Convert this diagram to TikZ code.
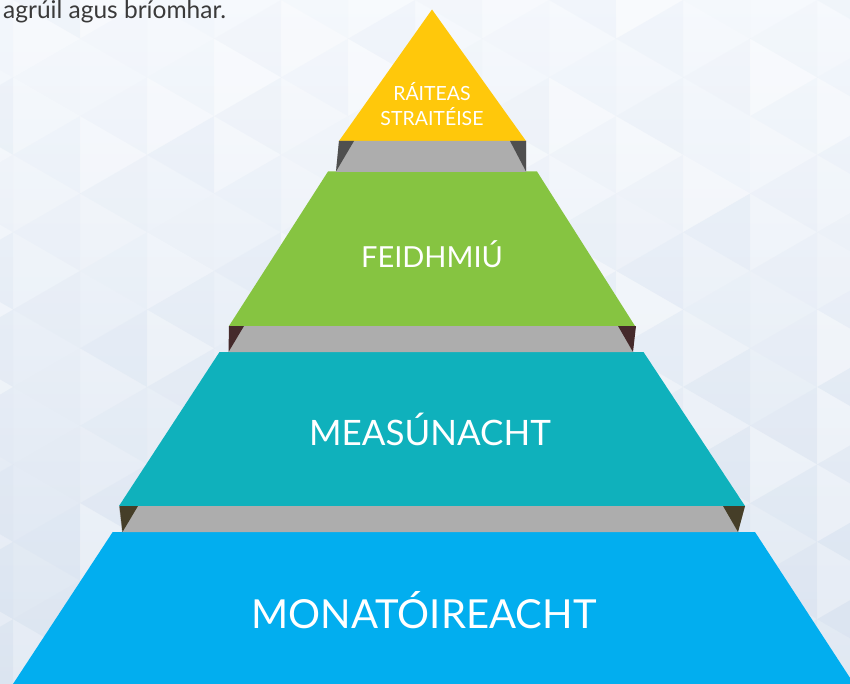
\documentclass[tikz,border=0pt]{standalone}
\usepackage{fontspec}
\setmainfont{Lato}
\usetikzlibrary{positioning}

\definecolor{pyryellow}{HTML}{FFC80B}
\definecolor{pyrgreen}{HTML}{86C441}
\definecolor{pyrteal}{HTML}{0FB1BC}
\definecolor{pyrblue}{HTML}{02AEEF}
\definecolor{stepgray}{HTML}{ADADAD}
\definecolor{shadeone}{HTML}{4F4F4F}
\definecolor{shadetwo}{HTML}{452A2B}
\definecolor{shadethree}{HTML}{453E28}
\definecolor{bgtop}{HTML}{F6F9FD}
\definecolor{bgbottom}{HTML}{DCE5F1}
\definecolor{facetblue}{HTML}{CCDAEC}
\definecolor{introgray}{HTML}{3A3A3A}

\begin{document}
\begin{tikzpicture}[
    x=1pt, y=-1pt,
    gapbox/.style={fill=stepgray},
    tierlabel/.style={text=white, inner sep=0, align=center}
]
\useasboundingbox (0,0) rectangle (850,684);
\clip (0,0) rectangle (850,684);

% Background with faint facets
\shade[top color=bgtop, bottom color=bgbottom] (0,0) rectangle (850,684);
\pgfmathsetseed{42}
\foreach \k in {-1,...,12}{
  \foreach \j in {-1,...,9}{
    \pgfmathsetmacro\xa{13+67*\k}
    \pgfmathsetmacro\xb{\xa+67}
    \pgfmathsetmacro\ya{77.4*\j+38.7*mod(\k+2,2)}
    \pgfmathsetmacro\opa{0.35*rnd}
    \pgfmathsetmacro\opb{0.15*rnd}
    \fill[white, opacity=\opa] (\xa,\ya) -- (\xa,\ya+77.4) -- (\xb,\ya+38.7) -- cycle;
    \fill[facetblue, opacity=\opb] (\xb,\ya+38.7) -- (\xb,\ya+116.1) -- (\xa,\ya+77.4) -- cycle;
  }
}

\node[anchor=base west, inner sep=0, text=introgray, font=\fontsize{24.5}{28}\selectfont] (intro) at (3,19) {agrúil agus bríomhar.};

% Tiers
\fill[pyryellow] (432,9.5) -- (526,141) -- (339,141) -- cycle;
\fill[pyrgreen] (328,171.5) -- (537,171.5) -- (635,326) -- (229,326) -- cycle;
\fill[pyrteal] (219.5,352) -- (643.5,352) -- (745,506) -- (119,506) -- cycle;
\fill[pyrblue] (112.7,532) -- (755,532) -- (854,684) -- (13,684) -- cycle;

% Gaps between tiers
\fill[gapbox] (339,141) -- (526,141) -- (526,172) -- (336,172) -- cycle;
\fill[shadeone] (339,141) -- (354,141) -- (336,171.5) -- cycle;
\fill[shadeone] (510,141) -- (526,141) -- (526,171.5) -- cycle;

\fill[gapbox] (229,326) -- (635,326) -- (632.5,352) -- (229,352) -- cycle;
\fill[shadetwo] (229,326) -- (244,326) -- (228.5,352) -- cycle;
\fill[shadetwo] (618,326) -- (636,326) -- (633,352) -- cycle;

\fill[gapbox] (119,506) -- (745,506) -- (738,532) -- (122,532) -- cycle;
\fill[shadethree] (119.5,506) -- (138,506) -- (122.5,532) -- cycle;
\fill[shadethree] (723,506) -- (745,506) -- (738,532) -- cycle;

% Labels
\node[tierlabel, font=\fontsize{19.5}{25}\selectfont] (strategy) at (432,104) {RÁITEAS\\STRAITÉISE};
\node[tierlabel, font=\fontsize{29}{32}\selectfont] (implement) at (432,254) {FEIDHMIÚ};
\node[tierlabel, font=\fontsize{35}{38}\selectfont] (assess) at (430,429) {MEASÚNACHT};
\node[tierlabel, font=\fontsize{40}{44}\selectfont] (monitor) at (424,610) {MONATÓIREACHT};
\end{tikzpicture}
\end{document}
